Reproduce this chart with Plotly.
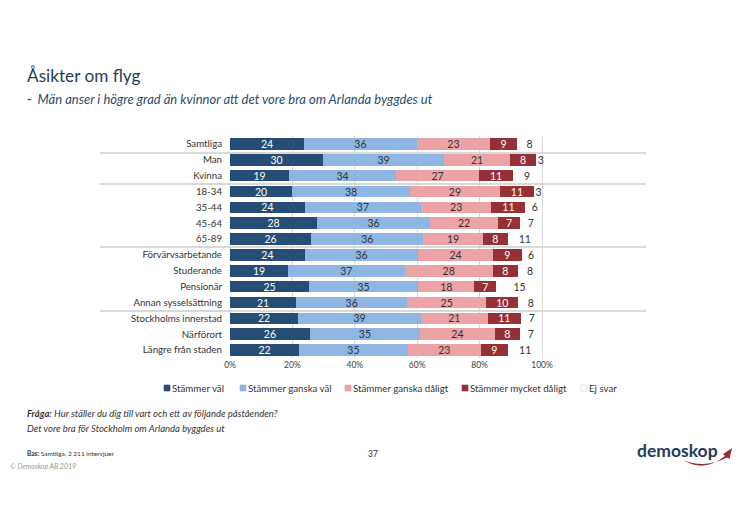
import plotly.graph_objects as go

categories = ["Samtliga", "Man", "Kvinna", "18-34", "35-44", "45-64", "65-89",
              "Förvärvsarbetande", "Studerande", "Pensionär", "Annan sysselsättning",
              "Stockholms innerstad", "Närförort", "Längre från staden"]
stammer_val = [23.7, 29.8, 18.9, 19.9, 24.0, 27.9, 26.0, 24.0, 18.6, 25.3, 21.2, 21.8, 25.6, 22.1]
ganska_val = [36.2, 38.8, 34.3, 37.8, 37.2, 36.2, 36.0, 36.3, 37.4, 35.0, 35.6, 39.4, 35.3, 34.9]
ganska_daligt = [23.4, 21.2, 26.6, 28.8, 22.6, 21.8, 19.0, 24.0, 28.2, 18.0, 25.3, 21.4, 24.0, 23.4]
mycket_daligt = [8.7, 8.3, 10.9, 10.9, 10.9, 7.0, 8.0, 9.2, 8.0, 7.0, 10.3, 10.6, 8.0, 8.7]
ej_svar = [8, 3, 9, 3, 6, 7, 11, 6, 8, 15, 8, 7, 7, 11]
series_names = ["Stämmer väl", "Stämmer ganska väl", "Stämmer ganska dåligt", "Stämmer mycket dåligt", "Ej svar"]
series_colors = ["#264d73", "#8db6e2", "#eca3a5", "#953035", "rgba(255,255,255,0)"]
label_colors = ["#ffffff", "#333333", "#333333", "#ffffff", "#333333"]
tick_vals = [0, 20, 40, 60, 80, 100]
tick_text = ["0%", "20%", "40%", "60%", "80%", "100%"]
FONT = "Lato"

W, H = 738, 519
def X(px):
    return (px - 8) / W
def Y(py):
    return 1 - (py - 8) / H

AX_END = 102  # room for stacks that round to slightly above 100
fig = go.Figure()
for name, vals, col, lc in zip(series_names,
                               [stammer_val, ganska_val, ganska_daligt, mycket_daligt, ej_svar],
                               series_colors, label_colors):
    fig.add_trace(go.Bar(
        y=categories, x=vals, name=name, orientation="h",
        marker=dict(color=col, line=dict(width=0)),
        text=[str(round(v)) for v in vals], textposition="inside", insidetextanchor="middle",
        textangle=0, constraintext="none", cliponaxis=False,
        textfont=dict(family=FONT, size=10.5, color=lc),
    ))

fig.update_layout(
    width=W, height=H, autosize=False,
    paper_bgcolor="white", plot_bgcolor="white",
    barmode="stack", bargap=0.27,
    font=dict(family=FONT, color="#333333"),
    margin=dict(l=0, r=0, t=0, b=0, autoexpand=False),
    xaxis=dict(domain=[X(230), X(230 + 3.12 * AX_END)], range=[0, AX_END], tickvals=tick_vals, ticktext=tick_text,
               showgrid=True, gridcolor="#d9d9d9", gridwidth=1, zeroline=False, showline=False,
               ticks="", tickfont=dict(size=8.5, color="#404040", family=FONT), anchor="y"),
    yaxis=dict(domain=[Y(358), Y(136)], autorange="reversed", showgrid=False, zeroline=False,
               showline=False, ticks="", ticklabelstandoff=7, tickfont=dict(size=9.7, color="#333333", family=FONT)),
    showlegend=False,
)

for yy in [153, 184, 247, 311]:
    fig.add_shape(type="line", xref="paper", yref="paper", x0=X(100), x1=X(646), y0=Y(yy), y1=Y(yy),
                  line=dict(color="#cccccc", width=1.3))

def note(x, y, text, size, color="#333333", italic=False):
    fig.add_annotation(xref="paper", yref="paper", x=X(x), y=Y(y), xanchor="left", yanchor="middle",
                       text=text, showarrow=False, font=dict(family=FONT, size=size, color=color,
                                                             style="italic" if italic else "normal"),
                       xshift=-1)

legend_x = [164, 240, 345, 462, 581]
swatch_colors = ["#264d73", "#8db6e2", "#eca3a5", "#953035", "#ffffff"]
for lx, name, col in zip(legend_x, series_names, swatch_colors):
    fig.add_shape(type="rect", xref="paper", yref="paper", x0=X(lx), x1=X(lx + 6), y0=Y(391), y1=Y(385),
                  fillcolor=col, line=dict(width=0.6, color="#cccccc" if col == "#ffffff" else col))
    note(lx + 7, 388, name, 9.7, "#333333")

note(26, 75, "Åsikter om flyg", 17.2, "#1f3d5a")
note(26, 99, "<b>-</b>  Män anser i högre grad än kvinnor att det vore bra om Arlanda byggdes ut", 13, "#264d6b", True)
note(26, 413, "<b>Fråga:</b> Hur ställer du dig till vart och ett av följande påståenden?", 9.5, "#333333", True)
note(26, 428, "Det vore bra för Stockholm om Arlanda byggdes ut", 9.5, "#333333", True)
note(26, 453, "<b>Bas:</b> Samtliga, 2 211 intervjuer", 6.5)
note(367, 454, "37", 8.5)
note(9, 466, "© Demoskop AB 2019", 7, "#999999", True)
note(636, 450, "<b>demoskop</b>", 17.5, "#1f3d55")
fig.add_shape(type="path", xref="paper", yref="paper",
              path=f"M {X(683)} {Y(460)} Q {X(704)} {Y(473)} {X(725)} {Y(456)} L {X(723)} {Y(454)} L {X(732)} {Y(448)} L {X(729.5)} {Y(459)} L {X(727)} {Y(457.5)} Q {X(705)} {Y(469)} {X(683)} {Y(460)} Z",
              fillcolor="#953035", line=dict(width=0))

fig.write_html("out.html")
